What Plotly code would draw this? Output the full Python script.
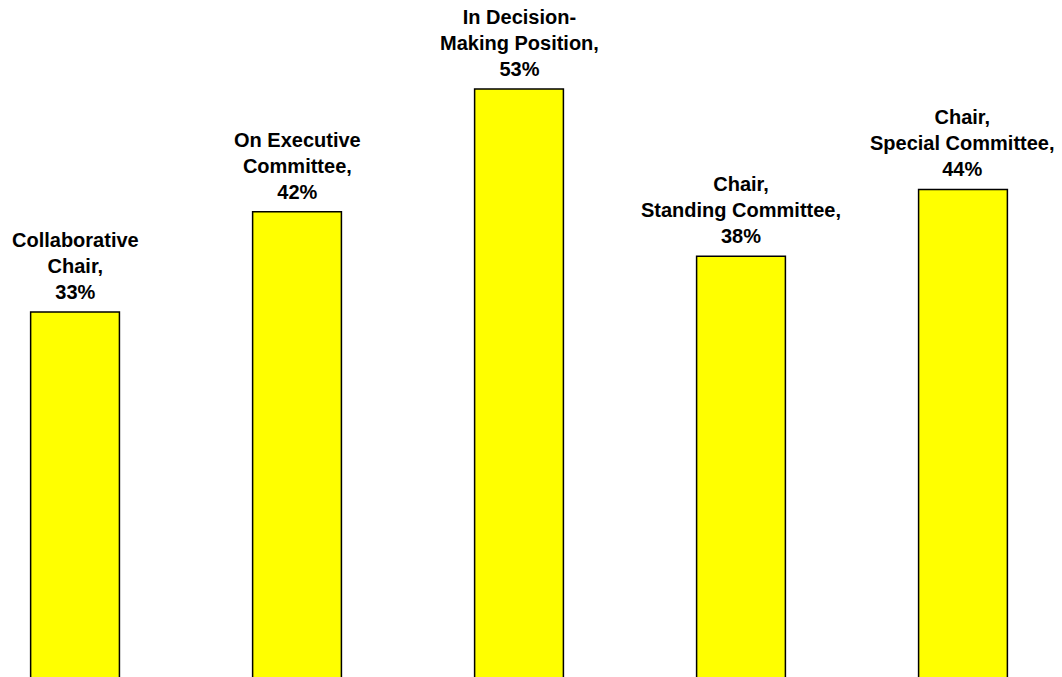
import plotly.graph_objects as go

# Leadership roles and the share held in each
roles = [
    "Collaborative<br>Chair,",
    "On Executive<br>Committee,",
    "In Decision-<br>Making Position,",
    "Chair,<br>Standing Committee,",
    "Chair,<br>Special Committee,",
]
shares = [33, 42, 53, 38, 44]

positions = list(range(len(roles)))

fig = go.Figure(
    go.Bar(
        x=positions,
        y=shares,
        width=0.4,
        marker=dict(color="#FFFF00", line=dict(color="#000000", width=1.5)),
        hoverinfo="skip",
    )
)

label_font = dict(family="Liberation Sans, Arial, sans-serif", size=20, color="#000000")
for pos, role, share in zip(positions, roles, shares):
    fig.add_annotation(
        x=pos,
        y=share,
        text=f"<b>{role}<br>{share}%</b>",
        showarrow=False,
        xanchor="center",
        yanchor="bottom",
        yshift=7,
        align="center",
        font=label_font,
    )

fig.update_layout(
    width=1062,
    height=677,
    margin=dict(l=0, r=0, t=0, b=0),
    paper_bgcolor="#FFFFFF",
    plot_bgcolor="#FFFFFF",
    showlegend=False,
    xaxis=dict(range=[-0.338, 4.446], visible=False, fixedrange=True),
    yaxis=dict(range=[0.27, 60.99], visible=False, fixedrange=True),
)

fig.write_html("out.html")
